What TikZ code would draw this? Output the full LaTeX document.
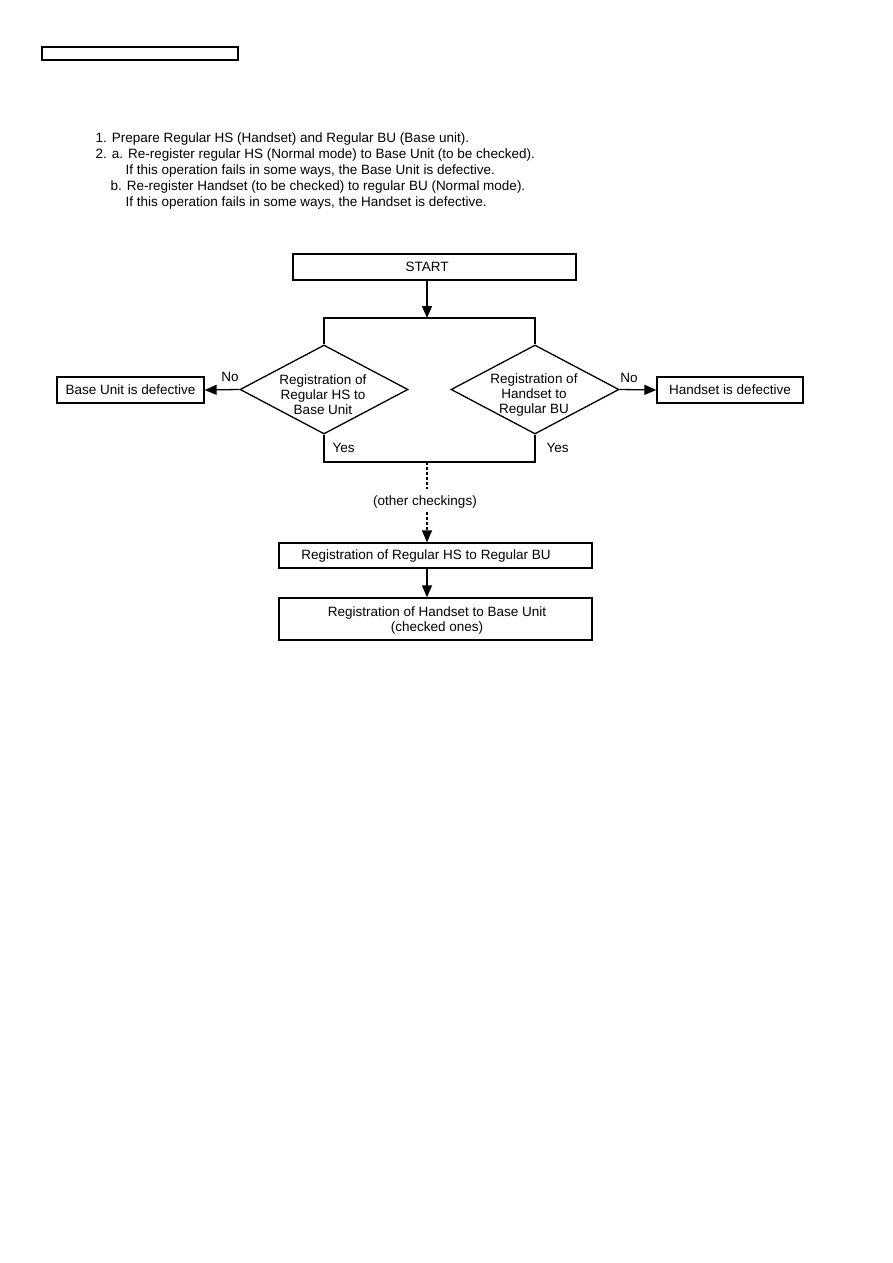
\documentclass[tikz,border=0pt]{standalone}
\usepackage{fontspec}
\setmainfont{Liberation Sans}
\usetikzlibrary{arrows.meta,shapes.geometric}
\begin{document}
\begin{tikzpicture}[x=1pt,y=-1pt,line width=1.3pt,
  box/.style={draw,rectangle,inner sep=0pt},
  dia/.style={draw,diamond,inner sep=0pt,minimum width=168pt,minimum height=89pt},
  txt/.style={inner sep=0pt,font=\fontsize{13.5}{16}\selectfont},
  ml/.style={inner sep=0pt,align=center,font=\fontsize{13.5}{15}\selectfont},
  arr/.style={-{Triangle[length=12pt,width=10pt]}},
  dsh/.style={dash pattern=on 3pt off 2pt}]
\useasboundingbox (0,0) rectangle (893,1263);
\fill[white] (0,0) rectangle (893,1263);
% header box
\node[box,minimum width=196pt,minimum height=13pt] (hdr) at (140,53.5) {};
% instructions
\node[txt,anchor=base west] (t1) at (95,142) {1. Prepare Regular HS (Handset) and Regular BU (Base unit).};
\node[txt,anchor=base west] (t2) at (95,158) {2. a. Re-register regular HS (Normal mode) to Base Unit (to be checked).};
\node[txt,anchor=base west] (t3) at (125,174) {If this operation fails in some ways, the Base Unit is defective.};
\node[txt,anchor=base west] (t4) at (110,190) {b. Re-register Handset (to be checked) to regular BU (Normal mode).};
\node[txt,anchor=base west] (t5) at (125,206) {If this operation fails in some ways, the Handset is defective.};
% flowchart
\node[box,minimum width=283pt,minimum height=26pt] (start) at (434.5,267) {};
\node[txt] (startl) at (427,267) {START};
\coordinate (split) at (427,318);
\draw[arr] (start.south -| split) -- (split);
\node[dia] (d1) at (324,389.5) {};
\node[ml] (d1l) at (323,395) {Registration of\\Regular HS to\\Base Unit};
\node[dia] (d2) at (535,389.5) {};
\node[ml] (d2l) at (534,395) {Registration of\\Handset to\\Regular BU};
\draw (d1.north) -- (d1.north |- split) -- (d2.north |- split) -- (d2.north);
\node[box,minimum width=147pt,minimum height=26pt] (bu) at (130.5,390) {};
\node[txt] (bul) at (bu) {Base Unit is defective};
\node[box,minimum width=146pt,minimum height=26pt] (hs) at (730,390) {};
\node[txt] (hsl) at (hs) {Handset is defective};
\draw[arr] (d1.west) -- (bu.east);
\draw[arr] (d2.east) -- (hs.west);
\node[txt] (no1) at (230,377) {No};
\node[txt] (no2) at (629,378) {No};
\coordinate (join) at (427,462);
\draw (d1.south) -- (d1.south |- join) -- (d2.south |- join) -- (d2.south);
\node[txt,anchor=west] (y1) at (332,448) {Yes};
\node[txt,anchor=west] (y2) at (546,448) {Yes};
\coordinate (da) at (427,489);
\coordinate (db) at (427,512);
\node[txt] (oc) at (425,502) {(other checkings)};
\node[box,minimum width=313pt,minimum height=25pt] (b2) at (435.5,555.5) {};
\node[txt] (b2l) at (426,556) {Registration of Regular HS to Regular BU};
\node[box,minimum width=313pt,minimum height=42pt] (b3) at (435.5,619) {};
\node[ml] (b3l) at (437,620) {Registration of Handset to Base Unit\\(checked ones)};
\draw[dsh] (join) -- (da);
\draw[dsh,arr] (db) -- (b2.north -| db);
\draw[arr] (b2.south -| db) -- (b3.north -| db);
\end{tikzpicture}
\end{document}
